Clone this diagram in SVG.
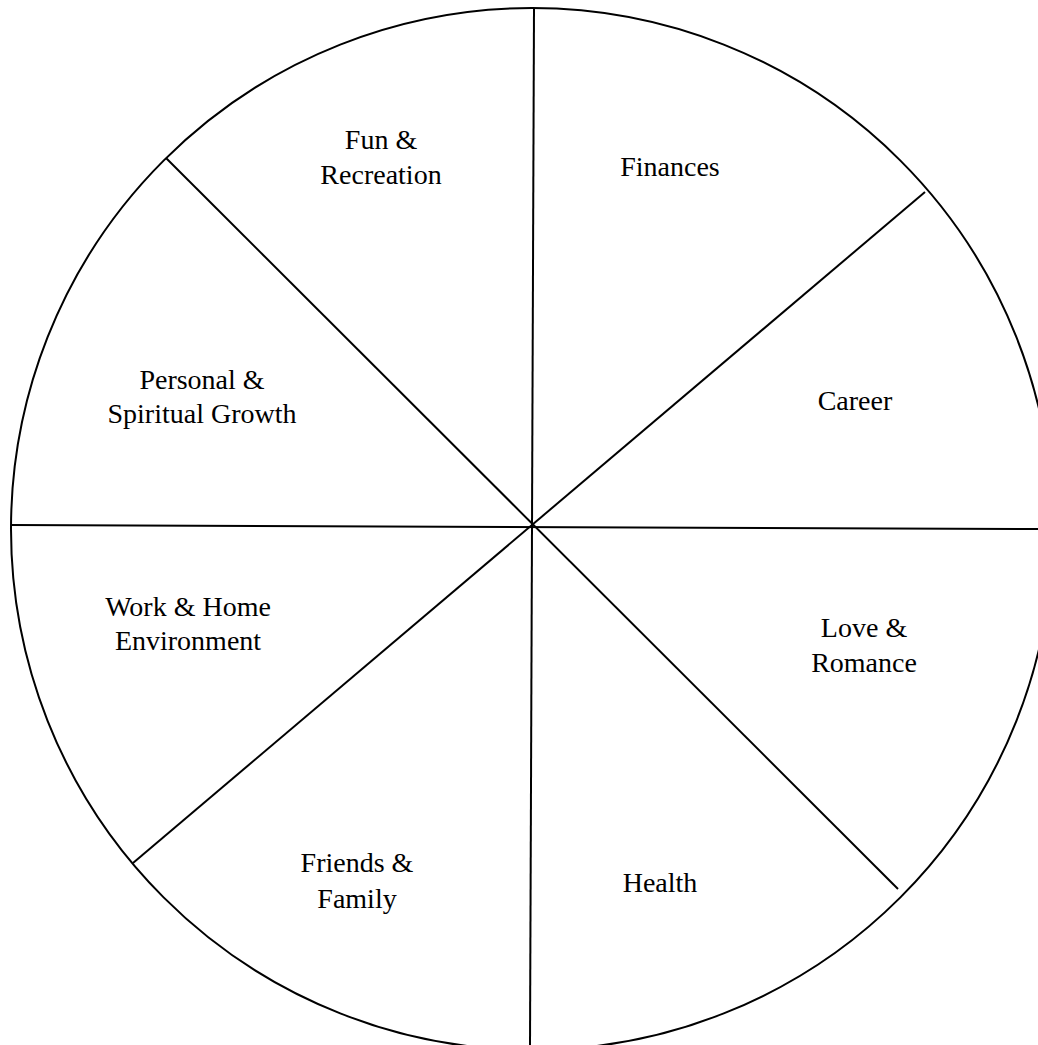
<svg xmlns="http://www.w3.org/2000/svg" width="1038" height="1045" viewBox="0 0 1038 1045">
<style>
.l{stroke:#000;stroke-width:2;fill:none}
text{font-family:"Liberation Serif","Times New Roman",serif;font-size:28px;fill:#000;text-anchor:middle}
</style>
<rect width="1038" height="1045" fill="#fff"/>
<g id="wheel">
<circle class="l" cx="532" cy="529" r="521"/>
</g>
<g id="connectors">
<line class="l" x1="534" y1="9" x2="530" y2="1045"/>
<line class="l" x1="11" y1="525" x2="1038" y2="529"/>
<line class="l" x1="166" y1="158" x2="898" y2="889"/>
<line class="l" x1="925" y1="192" x2="133" y2="863"/>
</g>
<g id="fun"><text x="381" y="149">Fun &amp;</text><text x="381" y="184">Recreation</text></g>
<g id="finances"><text x="670" y="176">Finances</text></g>
<g id="career"><text x="855" y="410">Career</text></g>
<g id="personal"><text x="202" y="389">Personal &amp;</text><text x="202" y="423">Spiritual Growth</text></g>
<g id="work"><text x="188" y="616">Work &amp; Home</text><text x="188" y="650">Environment</text></g>
<g id="love"><text x="864" y="637">Love &amp;</text><text x="864" y="672">Romance</text></g>
<g id="friends"><text x="357" y="872">Friends &amp;</text><text x="357" y="908">Family</text></g>
<g id="health"><text x="660" y="892">Health</text></g>
</svg>
